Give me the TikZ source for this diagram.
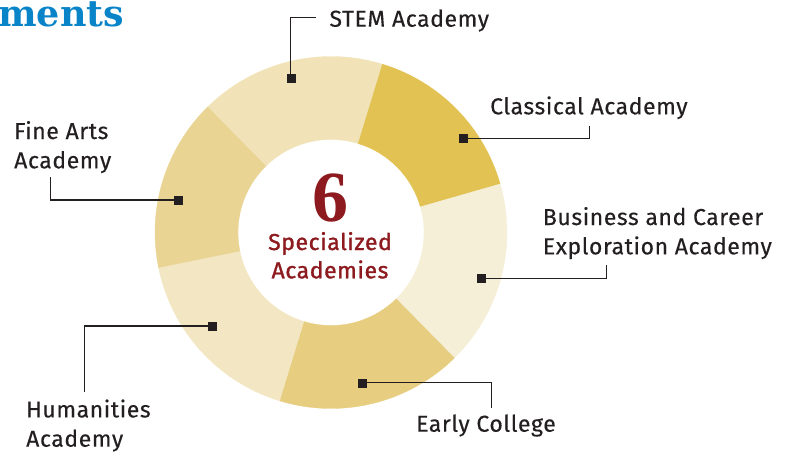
\documentclass[tikz,border=0pt]{standalone}
\usepackage{fontspec}
\setmainfont{Fira Sans}[LetterSpace=2.5, FakeBold=0.3]
\newfontfamily\numfont{Liberation Serif}
\newfontfamily\headfont{DejaVu Serif}
\usetikzlibrary{positioning,calc}

\definecolor{ink}{HTML}{231F20}
\definecolor{wine}{HTML}{8C1A1E}
\definecolor{headblue}{HTML}{0A84C8}
\definecolor{stemc}{HTML}{F1E3B7}
\definecolor{classc}{HTML}{E2C252}
\definecolor{busc}{HTML}{F5EFD8}
\definecolor{earlyc}{HTML}{E7CD80}
\definecolor{humc}{HTML}{F3E6C3}
\definecolor{finec}{HTML}{E9D494}

\begin{document}
\begin{tikzpicture}[
        x = 1pt, y = -1pt,
        dot/.style = {
            draw = ink,
            fill = ink,
            minimum size = #1,
            inner sep = 0pt,
            outer sep = 0pt
        },
        dot/.default = 8pt,
        leader/.style = {draw = ink, line width = 1.4pt},
        tag/.style = {
            text = ink,
            font = \fontsize{23}{29.3}\selectfont,
            inner sep = 0pt,
            align = left
        }
        ]
        \useasboundingbox (0,0) rectangle (792,452);
%
        \node[anchor=base west, inner sep=0pt, text=headblue,
              font=\headfont\bfseries\fontsize{36.5}{36}\selectfont] (head) at (-2,26.7) {ments};
%
        \coordinate (ring) at (331,232.5);
        \foreach \a/\b/\c in {-134.5/-73/stemc, -73/-16/classc, -16/45.5/busc,
                              45.5/107/earlyc, 107/168.5/humc, 168.5/225.5/finec}
            \filldraw[fill=\c, draw=\c, line width=0.3pt]
                ($(ring)+(\a:176)$) arc[start angle=\a, end angle=\b, radius=176]
                -- ($(ring)+(\b:93)$) arc[start angle=\b, end angle=\a, radius=93] -- cycle;
%
        \node[anchor=base, inner sep=0pt, text=wine, font=\numfont\bfseries\fontsize{72}{72}\selectfont] (six) at (330,221.7) {6};
        \node[anchor=base, inner sep=0pt, text=wine, align=center,
              font=\addfontfeatures{FakeBold=1.2}\fontsize{23}{28.3}\selectfont] (spec) at (330,278.3) {Specialized\\Academies};
%
        \node[dot] (stemdot) at (290.7,78.3) {};
        \node[dot] (clsdot) at (463.3,138.3) {};
        \node[dot] (busdot) at (480.7,278.3) {};
        \node[dot] (earlydot) at (362.3,382.7) {};
        \node[dot] (humdot) at (212.3,326) {};
        \node[dot] (finedot) at (178.3,200) {};
%
        % multi-line tags sit on the baseline of their last line
        \node[tag, anchor=base west] (stem) at (329.3,26.7) {STEM Academy};
        \node[tag, anchor=base west] (cls) at (490,114.3) {Classical Academy};
        \node[tag, anchor=base west] (bus) at (542.7,254.3) {Business and Career\\Exploration Academy};
        \node[tag, anchor=base west] (early) at (416,431.7) {Early College};
        \node[tag, anchor=base west] (hum) at (26,446.7) {Humanities\\Academy};
        \node[tag, anchor=base west] (fine) at (14,168.3) {Fine Arts\\Academy};
%
        \coordinate (stemend) at (316,17.7);
        \coordinate (clsend) at (589.3,125.7);
        \coordinate (busend) at (606.7,265);
        \coordinate (earlyend) at (491.7,407.7);
        \coordinate (humend) at (84.3,392.3);
        \coordinate (fineend) at (50.7,176.7);
%
        \draw[leader] (stemdot.north) |- (stemend);
        \draw[leader] (clsdot.east) -| (clsend);
        \draw[leader] (busdot.east) -| (busend);
        \draw[leader] (earlydot.east) -| (earlyend);
        \draw[leader] (humdot.west) -| (humend);
        \draw[leader] (finedot.west) -| (fineend);
\end{tikzpicture}
\end{document}
